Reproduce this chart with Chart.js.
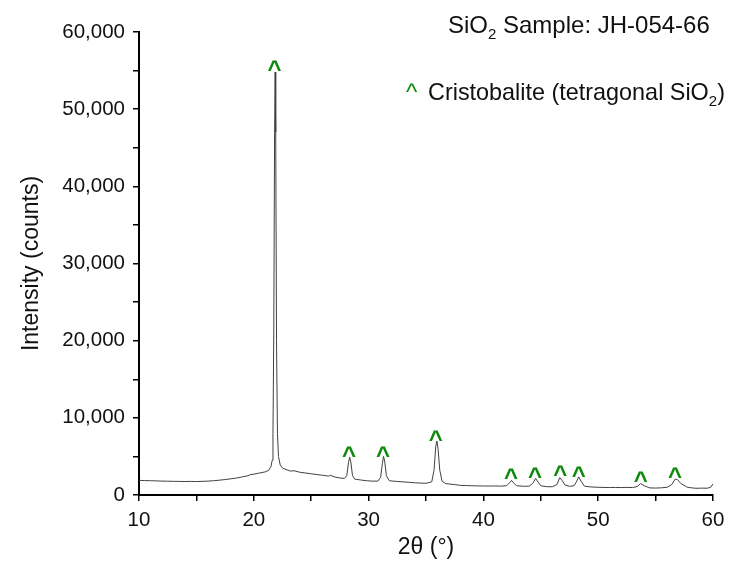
<!DOCTYPE html>
<html>
<head>
<meta charset="utf-8">
<title>SiO2 XRD — JH-054-66</title>
<script src="https://cdn.jsdelivr.net/npm/chart.js@4.4.1/dist/chart.umd.min.js"></script>
<style>
  html, body { margin: 0; padding: 0; background: #fff; }
  #xrd { display: block; }
</style>
</head>
<body>
<canvas id="xrd" width="734" height="569"></canvas>
<script>
// ============================================
// XRD pattern — SiO2 sample JH-054-66
// ============================================

// 2θ (deg) and intensity (counts)
const twoTheta = [
  10.0, 10.5, 11.0, 11.5, 12.0, 12.5, 13.0, 13.5, 14.0, 14.5,
  15.0, 15.5, 16.0, 16.5, 17.0, 17.5, 18.0, 18.5, 19.0, 19.5,
  19.7, 20.0, 20.5, 21.0, 21.3, 21.5, 21.6, 21.67, 21.74, 21.81,
  21.86, 21.91, 21.98, 22.06, 22.15, 22.3, 22.5, 22.8, 23.2, 23.5, 24.0, 24.5,
  25.0, 25.5, 26.0, 26.5, 26.7, 27.0, 27.5, 27.9, 28.1, 28.25,
  28.35, 28.45, 28.6, 28.8, 29.3, 29.8, 30.3, 30.8, 31.05, 31.2,
  31.3, 31.4, 31.55, 31.8, 32.5, 33.0, 33.5, 34.0, 34.5, 35.0,
  35.5, 35.7, 35.85, 35.95, 36.05, 36.2, 36.4, 36.7, 37.5, 38.0,
  38.5, 39.0, 39.5, 40.0, 40.5, 41.0, 41.5, 42.0, 42.3, 42.45,
  42.6, 42.9, 43.5, 44.0, 44.3, 44.55, 44.75, 45.0, 45.5, 46.0,
  46.4, 46.65, 46.85, 47.1, 47.5, 47.9, 48.1, 48.3, 48.5, 48.8,
  49.3, 50.0, 50.5, 51.0, 51.5, 52.0, 52.5, 53.0, 53.4, 53.7,
  54.0, 54.5, 55.0, 55.5, 56.0, 56.4, 56.7, 56.9, 57.2, 57.7,
  58.0, 58.5, 59.0, 59.5, 59.8, 60.0
];
const counts = [
  1900, 1870, 1850, 1830, 1800, 1790, 1770, 1760, 1750, 1760,
  1740, 1770, 1800, 1850, 1920, 2000, 2100, 2200, 2350, 2500,
  2650, 2700, 2850, 3000, 3200, 3700, 4500, 8000, 21000, 47000,
  54800, 47000, 20000, 8000, 5000, 3900, 3500, 3300, 3100, 3150, 2950, 2850,
  2750, 2650, 2550, 2450, 2550, 2350, 2200, 2150, 2500, 4200,
  4900, 4300, 2500, 2050, 1950, 1850, 1800, 1800, 2300, 4100,
  5000, 4400, 2500, 1850, 1750, 1700, 1650, 1580, 1550, 1520,
  1700, 3200, 6300, 7000, 6000, 3200, 1800, 1480, 1350, 1250,
  1220, 1200, 1180, 1170, 1160, 1170, 1150, 1200, 1600, 1900,
  1600, 1200, 1130, 1150, 1500, 2150, 1700, 1200, 1080, 1070,
  1350, 2250, 1900, 1300, 1120, 1200, 1700, 2350, 1800, 1150,
  1050, 1000, 980, 970, 980, 960, 990, 960, 1100, 1480,
  1200, 920, 900, 930, 1000, 1350, 2050, 2000, 1500, 1050,
  950, 870, 890, 880, 1000, 1450
];

// cristobalite reflections marked with "^" (position, height of the mark)
const peakTheta = [21.8, 28.3, 31.25, 35.85, 42.4, 44.5, 46.7, 48.3, 53.7, 56.7];
const peakMark  = [55700, 5700, 5700, 7740, 2900, 2980, 3290, 3070, 2420, 2980];

// axis tick labels
const xTicks = [10, 20, 30, 40, 50, 60];
const yTicks = [0, 10000, 20000, 30000, 40000, 50000, 60000];

const FONT      = "'Liberation Sans', Arial, sans-serif";
const CARET_GRN = '#0b8a0b';

// ─── Helpers ─────────────────────────────────────────────────────────────────

/** tulis teks dengan subscript: parts = [[teks, isSub], ...] */
function tulisSub(ctx, parts, x, y, size) {
  let cx = x;
  parts.forEach(([txt, sub]) => {
    ctx.font = (sub ? Math.round(size * 0.62) : size) + 'px ' + FONT;
    ctx.fillText(txt, cx, sub ? y + 6 : y);
    cx += ctx.measureText(txt).width;
  });
}

// ─── Plugin: peak marks + header text ────────────────────────────────────────

const annotasi = {
  id: 'annotasi',
  afterDatasetsDraw(chart) {
    const { ctx, scales: { x, y } } = chart;
    ctx.save();
    ctx.fillStyle = CARET_GRN;
    ctx.font = 'bold 24px ' + FONT;
    ctx.textAlign = 'center';
    ctx.textBaseline = 'alphabetic';
    peakTheta.forEach((t, i) => {
      ctx.fillText('^', x.getPixelForValue(t), y.getPixelForValue(peakMark[i]) + 12);
    });
    ctx.restore();
  },
  afterDraw(chart) {
    const { ctx } = chart;
    ctx.save();
    ctx.textAlign = 'left';
    ctx.textBaseline = 'alphabetic';
    ctx.fillStyle = '#111';
    tulisSub(ctx, [['SiO', false], ['2', true], [' Sample: JH-054-66', false]], 448, 33, 24);

    ctx.fillStyle = CARET_GRN;
    ctx.font = '24px ' + FONT;
    ctx.fillText('^', 406, 100);
    ctx.fillStyle = '#111';
    tulisSub(ctx, [['Cristobalite (tetragonal SiO', false], ['2', true], [')', false]], 428, 100, 23.4);
    ctx.restore();
  }
};

// ─── Chart ───────────────────────────────────────────────────────────────────

new Chart(document.getElementById('xrd'), {
  type: 'line',
  data: {
    datasets: [{
      label: 'JH-054-66',
      data: twoTheta.map((t, i) => ({ x: t, y: counts[i] })),
      borderColor: '#404040',
      borderWidth: 1,
      pointRadius: 0,
      tension: 0,
      fill: false
    }]
  },
  options: {
    responsive: false,
    animation: false,
    layout: { padding: { top: 32, right: 21, left: 0, bottom: 0 } },
    plugins: {
      legend: { display: false },
      tooltip: { enabled: false }
    },
    scales: {
      x: {
        type: 'linear',
        min: 10,
        max: 60,
        afterFit: s => { s.height = 74; },
        ticks: {
          stepSize: 5,
          autoSkip: false,
          maxRotation: 0,
          padding: 7,
          color: '#111',
          font: { family: FONT, size: 20.5 },
          callback: v => xTicks.includes(v) ? String(v) : ''
        },
        grid: { drawOnChartArea: false, drawTicks: true, tickLength: 6, color: '#000', lineWidth: 1.5 },
        border: { color: '#000', width: 2 },
        title: {
          display: true,
          text: '2θ (°)',
          color: '#111',
          font: { family: FONT, size: 23 },
          padding: { top: 0, bottom: 8 }
        }
      },
      y: {
        min: 0,
        max: 60000,
        afterFit: s => { s.width = 139; },
        ticks: {
          stepSize: 5000,
          padding: 8,
          color: '#111',
          font: { family: FONT, size: 20.5 },
          callback: v => yTicks.includes(v) ? v.toLocaleString('en-US') : ''
        },
        grid: { drawOnChartArea: false, drawTicks: true, tickLength: 6, color: '#000', lineWidth: 1.5 },
        border: { color: '#000', width: 2 },
        title: {
          display: true,
          text: 'Intensity (counts)',
          color: '#111',
          font: { family: FONT, size: 23 },
          padding: { top: 18, bottom: 0 }
        }
      }
    }
  },
  plugins: [annotasi]
});
</script>
</body>
</html>
